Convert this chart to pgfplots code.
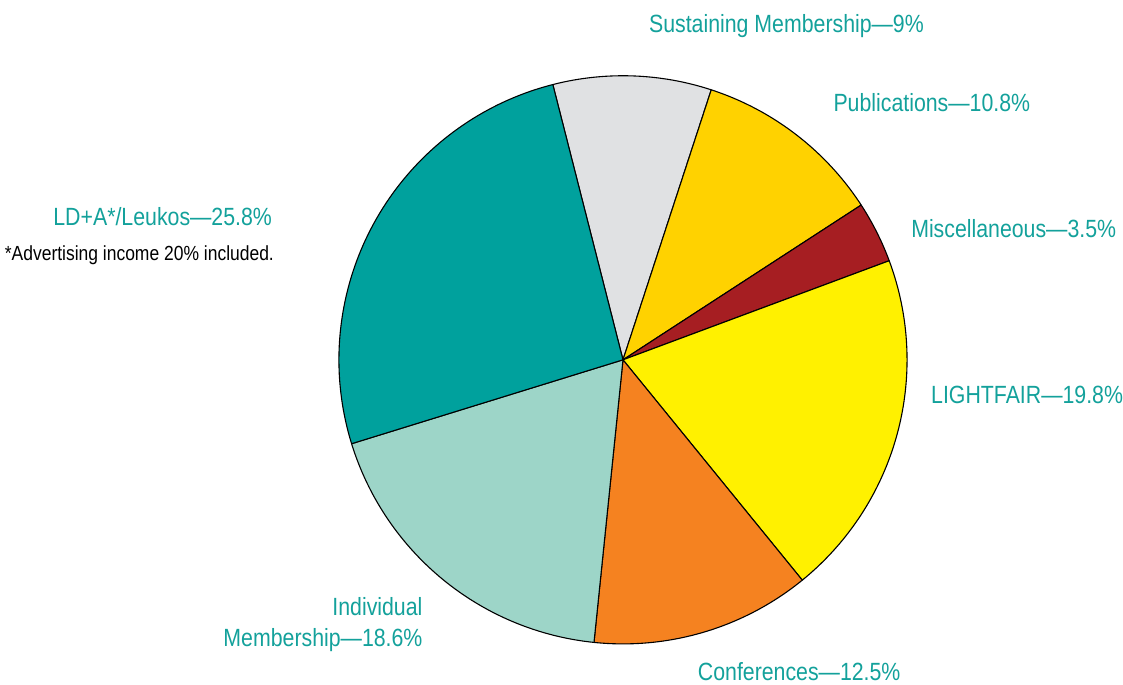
\documentclass[border=0pt]{standalone}
\usepackage{pgfplots}
\pgfplotsset{compat=1.18}
\usepackage{fontspec}
\setmainfont{Liberation Sans}[FakeStretch=0.855]
\definecolor{lbl}{HTML}{13A19B}
\definecolor{cLDA}{HTML}{00A19D}
\definecolor{cSus}{HTML}{E0E1E3}
\definecolor{cPub}{HTML}{FFD200}
\definecolor{cMis}{HTML}{A61E22}
\definecolor{cLF}{HTML}{FFF100}
\definecolor{cCon}{HTML}{F58220}
\definecolor{cInd}{HTML}{9DD5C8}
\begin{document}
\begin{tikzpicture}
\begin{axis}[
  x=1pt, y=1pt, xmin=0, xmax=1123, ymin=0, ymax=687,
  hide axis, clip=false, scale only axis,
  every axis plot/.append style={draw=black, line width=1.1pt, line join=round, samples=80, variable=\t},
]
% frame of the picture (invisible)
\addplot[draw=none, fill=none, mark=none] coordinates {(0,0) (1123,687)};
% shares (%): Sustaining 9, Publications 10.8, Misc 3.5, LIGHTFAIR 19.8,
% Conferences 12.5, Individual 18.6, LD+A/Leukos 25.8; start angle 104.3 deg, clockwise
\addplot[fill=cSus, domain={104.3-3.6*9}:{104.3}] ({625+285*cos(t)},{326+285*sin(t)}) -- (axis cs:625,326) -- cycle;
\addplot[fill=cPub, domain={104.3-3.6*19.8}:{104.3-3.6*9}] ({625+285*cos(t)},{326+285*sin(t)}) -- (axis cs:625,326) -- cycle;
\addplot[fill=cMis, domain={104.3-3.6*23.3}:{104.3-3.6*19.8}] ({625+285*cos(t)},{326+285*sin(t)}) -- (axis cs:625,326) -- cycle;
\addplot[fill=cLF, domain={104.3-3.6*43.1}:{104.3-3.6*23.3}] ({625+285*cos(t)},{326+285*sin(t)}) -- (axis cs:625,326) -- cycle;
\addplot[fill=cCon, domain={104.3-3.6*55.6}:{104.3-3.6*43.1}] ({625+285*cos(t)},{326+285*sin(t)}) -- (axis cs:625,326) -- cycle;
\addplot[fill=cInd, domain={104.3-3.6*74.2}:{104.3-3.6*55.6}] ({625+285*cos(t)},{326+285*sin(t)}) -- (axis cs:625,326) -- cycle;
\addplot[fill=cLDA, domain={104.3-3.6*100}:{104.3-3.6*74.2}] ({625+285*cos(t)},{326+285*sin(t)}) -- (axis cs:625,326) -- cycle;

\begin{scope}[every node/.style={inner sep=0pt, text=lbl, font=\fontsize{25}{30}\selectfont}]
\node[anchor=base west] at (axis cs:651,654) {Sustaining Membership—9\%};
\node[anchor=base west] at (axis cs:836,575) {Publications—10.8\%};
\node[anchor=base west] at (axis cs:914,449) {Miscellaneous—3.5\%};
\node[anchor=base west] at (axis cs:934,282) {LIGHTFAIR—19.8\%};
\node[anchor=base west] at (axis cs:700,4) {Conferences—12.5\%};
\node[anchor=base east] at (axis cs:424,69) {Individual};
\node[anchor=base east] at (axis cs:424,38) {Membership—18.6\%};
\node[anchor=base east] at (axis cs:273,461) {LD+A*/Leukos—25.8\%};
\node[anchor=base east, text=black, font=\fontsize{20.5}{25}\selectfont] at (axis cs:275,426) {*Advertising income 20\% included.};
\end{scope}
\end{axis}
\end{tikzpicture}
\end{document}
